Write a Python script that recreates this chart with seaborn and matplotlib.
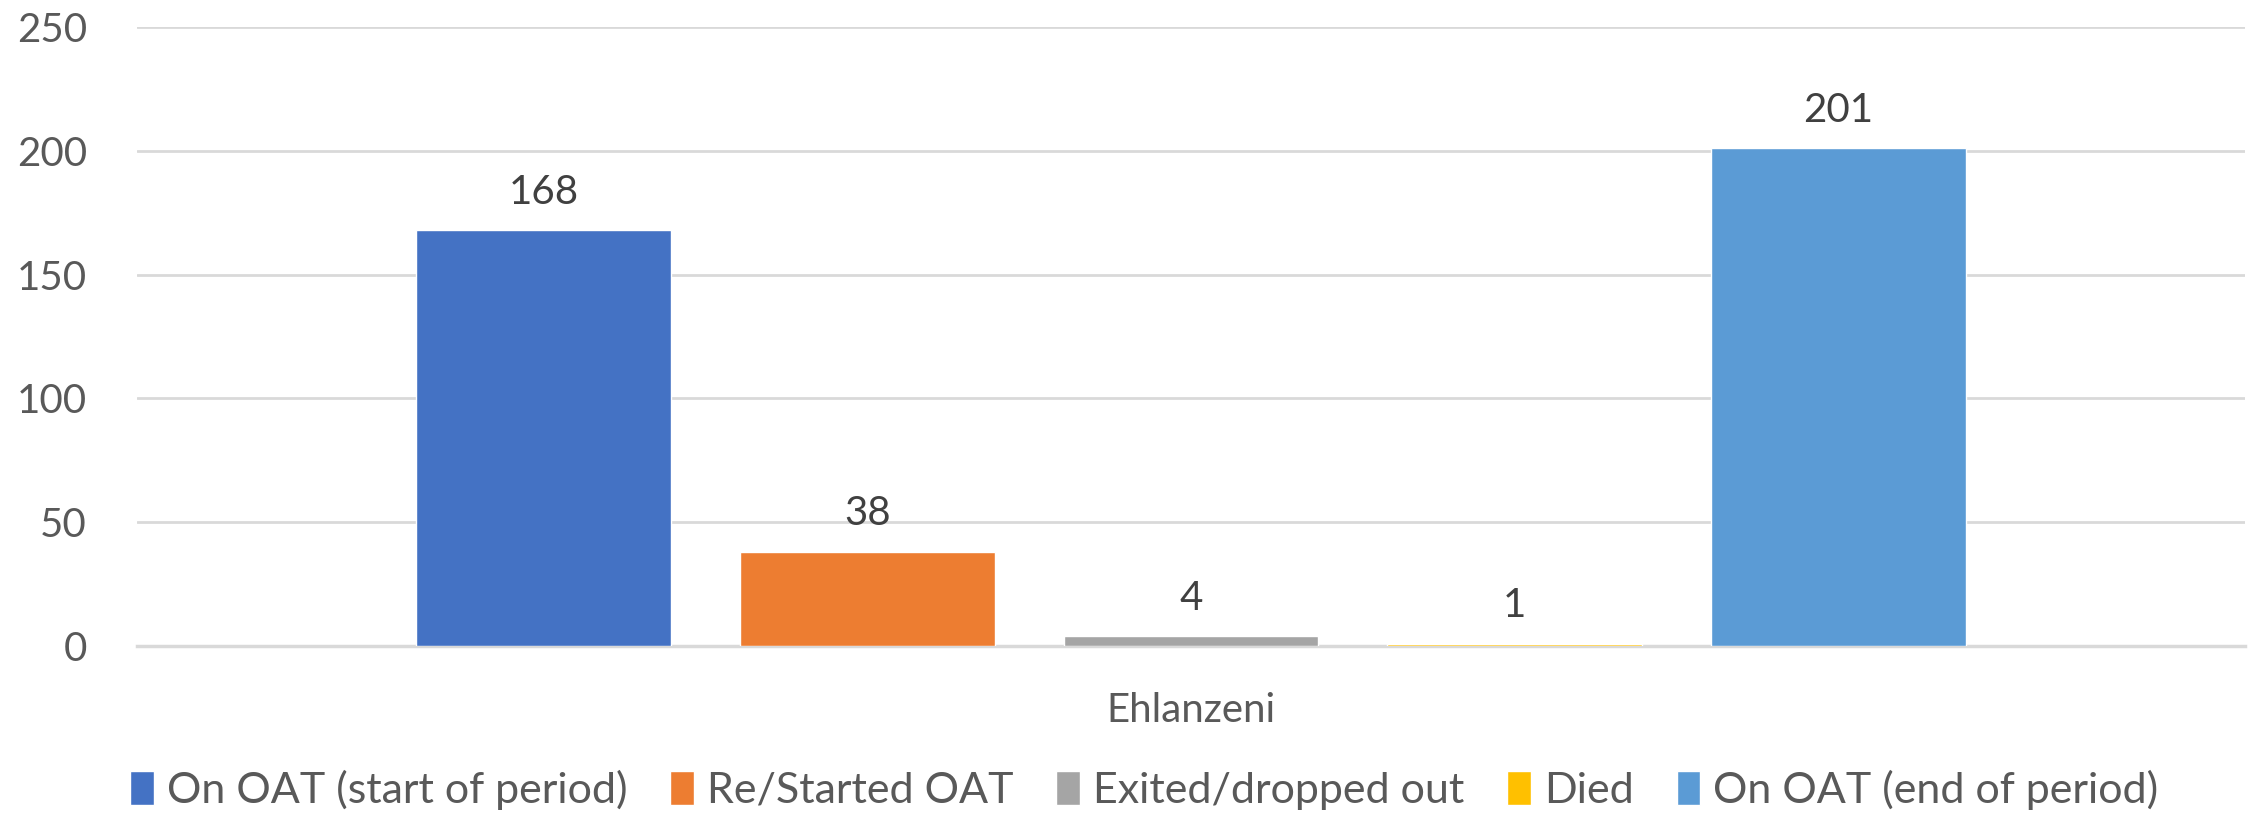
import pandas as pd
import seaborn as sns
import matplotlib.pyplot as plt

# Chart data
regions = ["Ehlanzeni"]
statuses = ["On OAT (start of period)", "Re/Started OAT", "Exited/dropped out", "Died", "On OAT (end of period)"]
counts = [168, 38, 4, 1, 201]
colors = ["#4472C4", "#ED7D31", "#A5A5A5", "#FFC000", "#5B9BD5"]
y_ticks = [0, 50, 100, 150, 200, 250]

df = pd.DataFrame({
    "region": regions * len(statuses),
    "status": statuses,
    "count": counts,
})

sns.set_style("white")
plt.rcParams["font.family"] = ["Lato", "DejaVu Sans"]

fig = plt.figure(figsize=(22.57, 8.14), dpi=100)
ax = fig.add_axes([0.0607, 0.2064, 0.934, 0.7604])

sns.barplot(data=df, x="region", y="count", hue="status", hue_order=statuses,
            palette=colors, width=0.768, gap=0.213, saturation=1, ax=ax)

# value labels above bars
for cont in ax.containers:
    ax.bar_label(cont, fmt="%d", padding=14, fontsize=29, color="#404040")

ax.set_ylim(0, 250)
ax.set_xlim(-0.5, 0.5)
ax.set_yticks(y_ticks)
ax.yaxis.grid(True, color="#D9D9D9", linewidth=2)
ax.set_axisbelow(True)
for side in ["top", "right", "left"]:
    ax.spines[side].set_visible(False)
ax.spines["bottom"].set_color("#D9D9D9")
ax.spines["bottom"].set_linewidth(2.5)
ax.spines["bottom"].set_zorder(0.5)
ax.tick_params(axis="y", length=0, pad=36, labelsize=29, labelcolor="#595959")
ax.tick_params(axis="x", length=0, pad=33, labelsize=29, labelcolor="#595959")
ax.set_xlabel("")
ax.set_ylabel("")

handles, labels = ax.get_legend_handles_labels()
ax.legend(handles, labels, loc="center", bbox_to_anchor=(0.507, 0.03),
          bbox_transform=fig.transFigure, ncol=5, frameon=False,
          fontsize=31, labelcolor="#595959", handlelength=0.55,
          handleheight=0.85, handletextpad=0.3, columnspacing=1.0)

fig.savefig("out.png", dpi=100)
